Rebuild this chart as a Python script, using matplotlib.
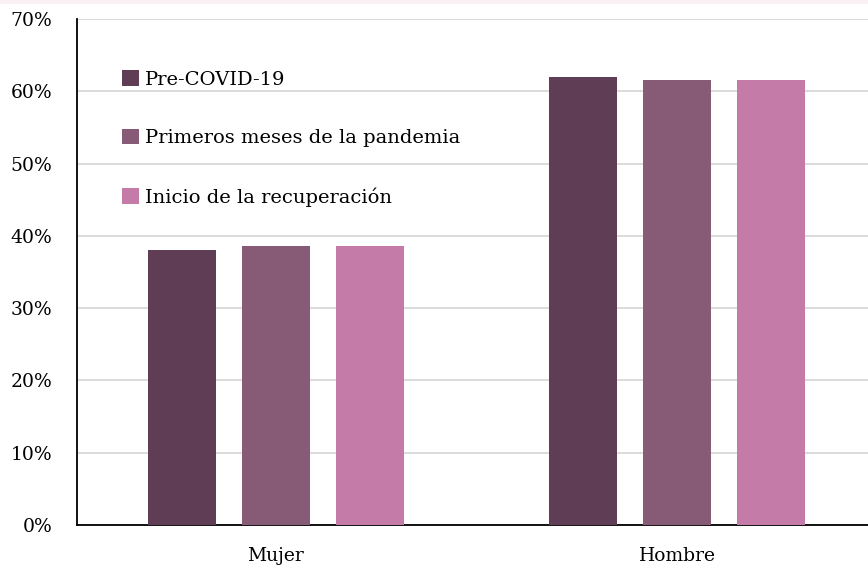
import matplotlib.pyplot as plt
import numpy as np
from matplotlib.patches import Rectangle

categories = ["Mujer", "Hombre"]
series = ["Pre-COVID-19", "Primeros meses de la pandemia", "Inicio de la recuperación"]
pre_covid = [38.0, 62.0]
primeros = [38.6, 61.5]
inicio = [38.6, 61.5]
colors = ["#5e3d55", "#875a75", "#c47ba7"]

plt.rcParams['font.family'] = ['DejaVu Serif']

fig = plt.figure(figsize=(8.68, 5.68), dpi=100)
fig.patches.append(Rectangle((0, 0.994), 1, 0.006, transform=fig.transFigure,
                             color="#fbf1f4", zorder=0))
ax = fig.add_axes([77 / 868, 1 - 525 / 568, 1 - 77 / 868, (525 - 19) / 568])

x = np.arange(len(categories))
width = 0.17
offset = 0.234
for k, vals in enumerate([pre_covid, primeros, inicio]):
    ax.bar(x + (k - 1) * offset, vals, width, color=colors[k], label=series[k], zorder=3)

ax.set_ylim(0, 70)
ax.set_xlim(-0.496, 1.476)
ax.set_yticks(range(0, 71, 10))
ax.set_yticklabels([f"{v}%" for v in range(0, 71, 10)])
ax.set_xticks(x)
ax.set_xticklabels(categories)
ax.tick_params(axis='both', length=0, labelsize=13.5)
ax.tick_params(axis='y', pad=18)
ax.tick_params(axis='x', pad=15.5)
ax.grid(axis='y', color="#d9d9d9", linewidth=1.3, zorder=0)
ax.spines['top'].set_visible(False)
ax.spines['right'].set_visible(False)
ax.spines['left'].set_linewidth(1.3)
ax.spines['bottom'].set_linewidth(1.3)

ax.legend(loc='upper left', bbox_to_anchor=(0.035, 0.933), frameon=False, fontsize=14,
          handlelength=0.85, handleheight=0.85, handletextpad=0.3, labelspacing=2.05)

fig.savefig("out.png", dpi=100)
